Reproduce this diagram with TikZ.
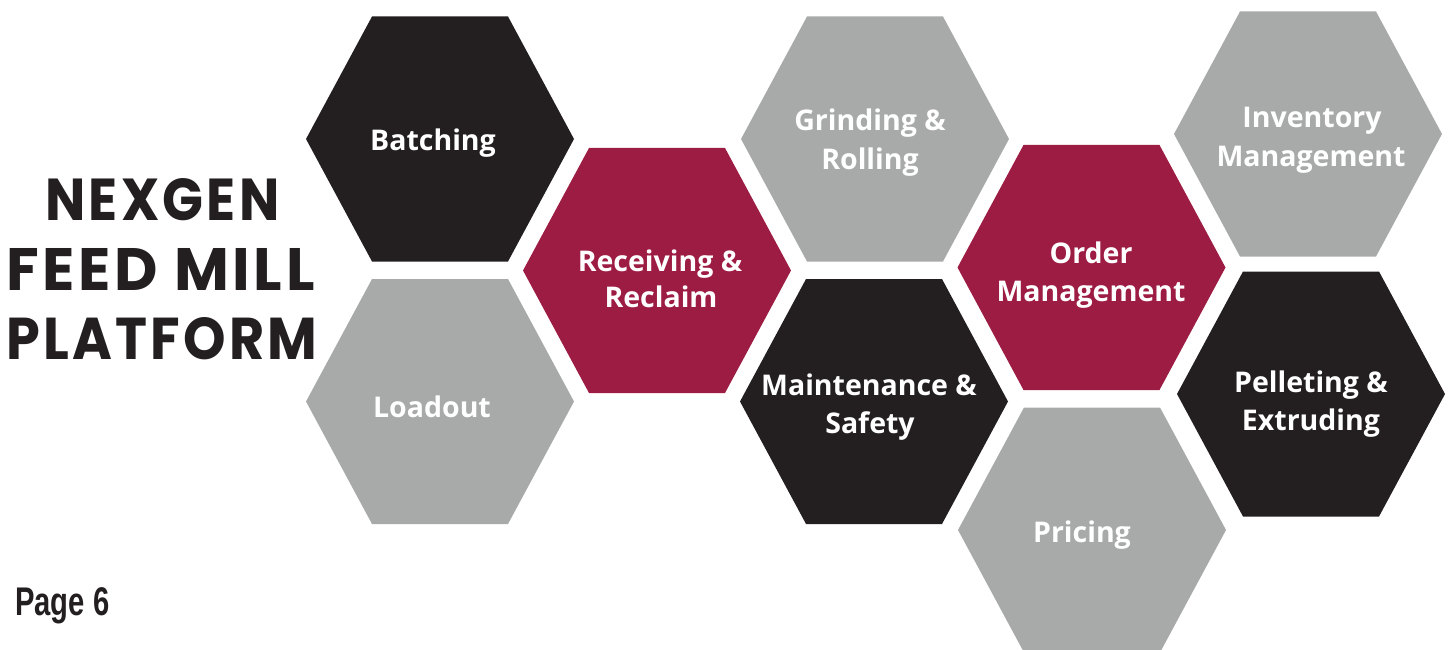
\documentclass[tikz,border=0pt]{standalone}
\usepackage{fontspec}
\setmainfont{Open Sans}
\newfontfamily\titlefont{Poppins}[LetterSpace=6]
\newfontfamily\pagefont{Liberation Sans}
\definecolor{hexblack}{HTML}{231F20}
\definecolor{hexred}{HTML}{9D1C43}
\definecolor{hexgray}{HTML}{A8AAA9}
\begin{document}
\begin{tikzpicture}[x=1pt,y=-1pt,
  hexa/.pic={\path[pic actions] (-134,0) -- (-68,-122.5) -- (68,-122.5) -- (134,0) -- (68,122.5) -- (-68,122.5) -- cycle;},
  lbl/.style={anchor=base, text=white, font=\bfseries\fontsize{28.5}{28.5}\selectfont, inner sep=0pt},
  ttl/.style={anchor=base, text=hexblack, font=\titlefont\bfseries\fontsize{56}{56}\selectfont, inner sep=0pt},
  pg/.style={anchor=base west, text=hexblack, font=\pagefont\bfseries\fontsize{40}{40}\selectfont, inner sep=0pt}]
\useasboundingbox (0,0) rectangle (1448,650);
\clip (0,0) rectangle (1448,650);
% hexagons
\coordinate (batch) at (440,139);
\coordinate (load)  at (440,401.5);
\coordinate (recv)  at (657,270.5);
\coordinate (grind) at (875,139);
\coordinate (maint) at (874,401.5);
\coordinate (order) at (1091.5,267.5);
\coordinate (price) at (1092,530);
\coordinate (inv)   at (1308,134);
\coordinate (pell)  at (1311,394);
\pic[fill=hexblack] at (batch) {hexa};
\pic[fill=hexgray]  at (load)  {hexa};
\pic[fill=hexred]   at (recv)  {hexa};
\pic[fill=hexgray]  at (grind) {hexa};
\pic[fill=hexblack] at (maint) {hexa};
\pic[fill=hexred]   at (order) {hexa};
\pic[fill=hexgray]  at (price) {hexa};
\pic[fill=hexgray]  at (inv)   {hexa};
\pic[fill=hexblack] at (pell)  {hexa};
% labels
\node[lbl] (tbatch) at (433,150) {Batching};
\node[lbl] (tload)  at (432,417) {Loadout};
\node[lbl] (trecv1) at (660,271) {Receiving \&};
\node[lbl] (trecv2) at (661,307) {Reclaim};
\node[lbl] (tgrind1) at (870,131) {Grinding \&};
\node[lbl] (tgrind2) at (870,169) {Rolling};
\node[lbl] (torder1) at (1091,263) {Order};
\node[lbl] (torder2) at (1091,301) {Management};
\node[lbl] (tinv1) at (1312,128) {Inventory};
\node[lbl] (tinv2) at (1311,167) {Management};
\node[lbl] (tmaint1) at (869,395) {Maintenance \&};
\node[lbl] (tmaint2) at (870,433) {Safety};
\node[lbl] (tpell1) at (1311,392) {Pelleting \&};
\node[lbl] (tpell2) at (1311,430) {Extruding};
\node[lbl] (tprice) at (1082,542) {Pricing};
% title
\node[ttl] (title1) at (162.5,220) {\resizebox{234pt}{42pt}{NEXGEN}};
\node[ttl] (title2) at (160.5,290) {\resizebox{308pt}{42pt}{FEED MILL}};
\node[ttl] (title3) at (162,359) {\resizebox{311pt}{42pt}{PLATFORM}};
\node[pg] (page) at (15,615) {\scalebox{0.73}[1]{Page 6}};
\end{tikzpicture}
\end{document}
